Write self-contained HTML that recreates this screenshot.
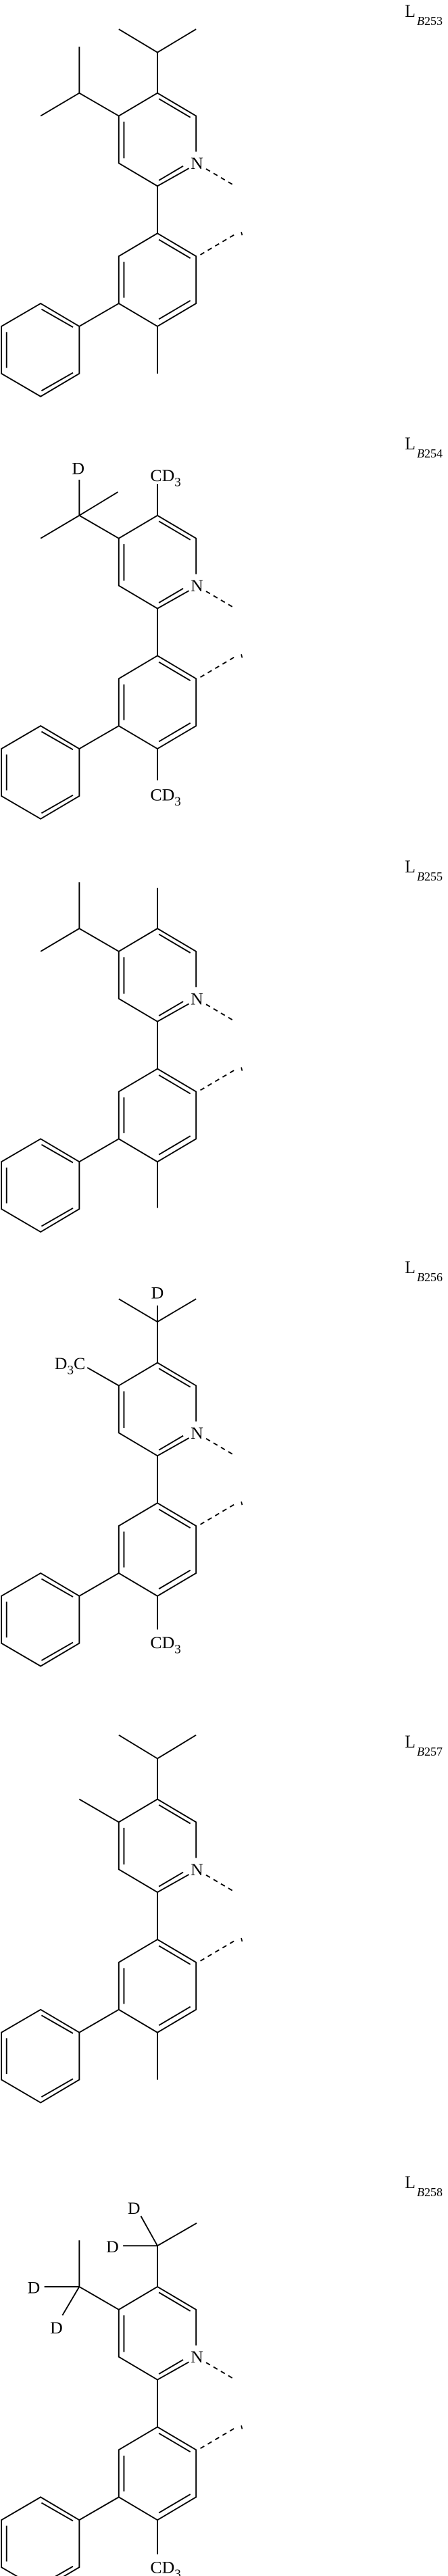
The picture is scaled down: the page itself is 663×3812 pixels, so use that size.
<!DOCTYPE html>
<html><head><meta charset="utf-8"><style>
html,body{margin:0;padding:0;background:#fff;}
svg{display:block;}
text{font-family:"Liberation Serif",serif;fill:#000;}
</style></head><body>
<svg width="663" height="3812" viewBox="0 0 663 3812" xmlns="http://www.w3.org/2000/svg">
<defs>
<g id="core" stroke="#000" stroke-width="4.5" fill="none" stroke-linecap="butt">
  <path d="M550,0 L685,80 L685,205 M660,263 L550,325 L415,245 L415,80 L550,0"/>
  <path d="M555,20 L665,85 M555,305 L640,255 M433,100 L433,228"/>
  <path d="M550,325 L550,490"/>
  <path d="M550,490 L685,570 L685,735 L550,815 L415,735 L415,570 Z"/>
  <path d="M555,512 L665,577 M665,725 L555,790 M433,590 L433,715"/>
  <path d="M415,735 L277,815"/>
  <path d="M277,815 L142,735 L5,815 L5,980 L142,1060 L277,980 Z"/>
  <path d="M145,755 L255,818 M23,835 L23,960 M145,1040 L255,977"/>
  <path d="M720,265 L822,325" stroke-dasharray="16 14"/>
  <path d="M700,565 L822,493" stroke-dasharray="16 14"/>
  <path d="M843,485 L846,497" stroke-width="4"/>
</g>
</defs>

<text x="599" y="25" font-size="26">L</text><text x="617" y="37" font-size="18"><tspan font-style="italic">B</tspan>253</text>
<g transform="translate(0,137.7) scale(0.4236)">
  <use href="#core"/>
  <text x="688" y="265" font-size="61" text-anchor="middle">N</text>
  <g stroke="#000" stroke-width="4.5" fill="none">
    <path d="M550,0 L550,-142 L415,-223 M550,-142 L685,-223"/>
    <path d="M415,80 L277,0 L142,80 M277,0 L277,-162"/>
    <path d="M550,815 L550,980"/>
  </g>
</g>

<text x="599" y="665" font-size="26">L</text><text x="617" y="677" font-size="18"><tspan font-style="italic">B</tspan>254</text>
<g transform="translate(0,762.8) scale(0.4236)">
  <use href="#core"/>
  <text x="688" y="265" font-size="61" text-anchor="middle">N</text>
  <g stroke="#000" stroke-width="4.5" fill="none">
    <path d="M550,0 L550,-110"/>
    <path d="M415,80 L277,0 L142,80 M277,0 L412,-82 M277,0 L277,-125"/>
    <path d="M550,815 L550,925"/>
  </g>
  <text x="525" y="-120" font-size="61">CD<tspan font-size="45" dy="18">3</tspan></text>
  <text x="273" y="-145" font-size="61" text-anchor="middle">D</text>
  <text x="525" y="995" font-size="61">CD<tspan font-size="45" dy="18">3</tspan></text>
</g>

<text x="599" y="1291" font-size="26">L</text><text x="617" y="1303" font-size="18"><tspan font-style="italic">B</tspan>255</text>
<g transform="translate(0,1374) scale(0.4236)">
  <use href="#core"/>
  <text x="688" y="265" font-size="61" text-anchor="middle">N</text>
  <g stroke="#000" stroke-width="4.5" fill="none">
    <path d="M550,0 L550,-142"/>
    <path d="M415,80 L277,0 L142,80 M277,0 L277,-162"/>
    <path d="M550,815 L550,976"/>
  </g>
</g>

<text x="599" y="1884" font-size="26">L</text><text x="617" y="1896" font-size="18"><tspan font-style="italic">B</tspan>256</text>
<g transform="translate(0,2016.6) scale(0.4236)">
  <use href="#core"/>
  <text x="688" y="265" font-size="61" text-anchor="middle">N</text>
  <g stroke="#000" stroke-width="4.5" fill="none">
    <path d="M550,0 L550,-200 M550,-143 L415,-223 M550,-143 L685,-223"/>
    <path d="M415,80 L305,17"/>
    <path d="M550,815 L550,932"/>
  </g>
  <text x="550" y="-224" font-size="61" text-anchor="middle">D</text>
  <text x="298" y="22" font-size="61" text-anchor="end">D<tspan font-size="45" dy="18">3</tspan><tspan dy="-18">C</tspan></text>
  <text x="525" y="997" font-size="61">CD<tspan font-size="45" dy="18">3</tspan></text>
</g>

<text x="599" y="2586" font-size="26">L</text><text x="617" y="2598" font-size="18"><tspan font-style="italic">B</tspan>257</text>
<g transform="translate(0,2662.5) scale(0.4236)">
  <use href="#core"/>
  <text x="688" y="265" font-size="61" text-anchor="middle">N</text>
  <g stroke="#000" stroke-width="4.5" fill="none">
    <path d="M550,0 L550,-142 L415,-224 M550,-142 L685,-224"/>
    <path d="M415,80 L277,0"/>
    <path d="M550,815 L550,980"/>
  </g>
</g>

<text x="599" y="3238" font-size="26">L</text><text x="617" y="3250" font-size="18"><tspan font-style="italic">B</tspan>258</text>
<g transform="translate(0,3383.9) scale(0.4236)">
  <use href="#core"/>
  <text x="688" y="265" font-size="61" text-anchor="middle">N</text>
  <g stroke="#000" stroke-width="4.5" fill="none">
    <path d="M550,0 L550,-143 L687,-222 M550,-143 L492,-247 M550,-143 L430,-143"/>
    <path d="M415,80 L277,0 L277,-162 M277,0 L155,0 M277,0 L218,100"/>
    <path d="M550,815 L550,935"/>
  </g>
  <text x="468" y="-255" font-size="61" text-anchor="middle">D</text>
  <text x="393" y="-120" font-size="61" text-anchor="middle">D</text>
  <text x="118" y="23" font-size="61" text-anchor="middle">D</text>
  <text x="197" y="163" font-size="61" text-anchor="middle">D</text>
  <text x="525" y="1000" font-size="61">CD<tspan font-size="45" dy="18">3</tspan></text>
</g>
</svg>
</body></html>
